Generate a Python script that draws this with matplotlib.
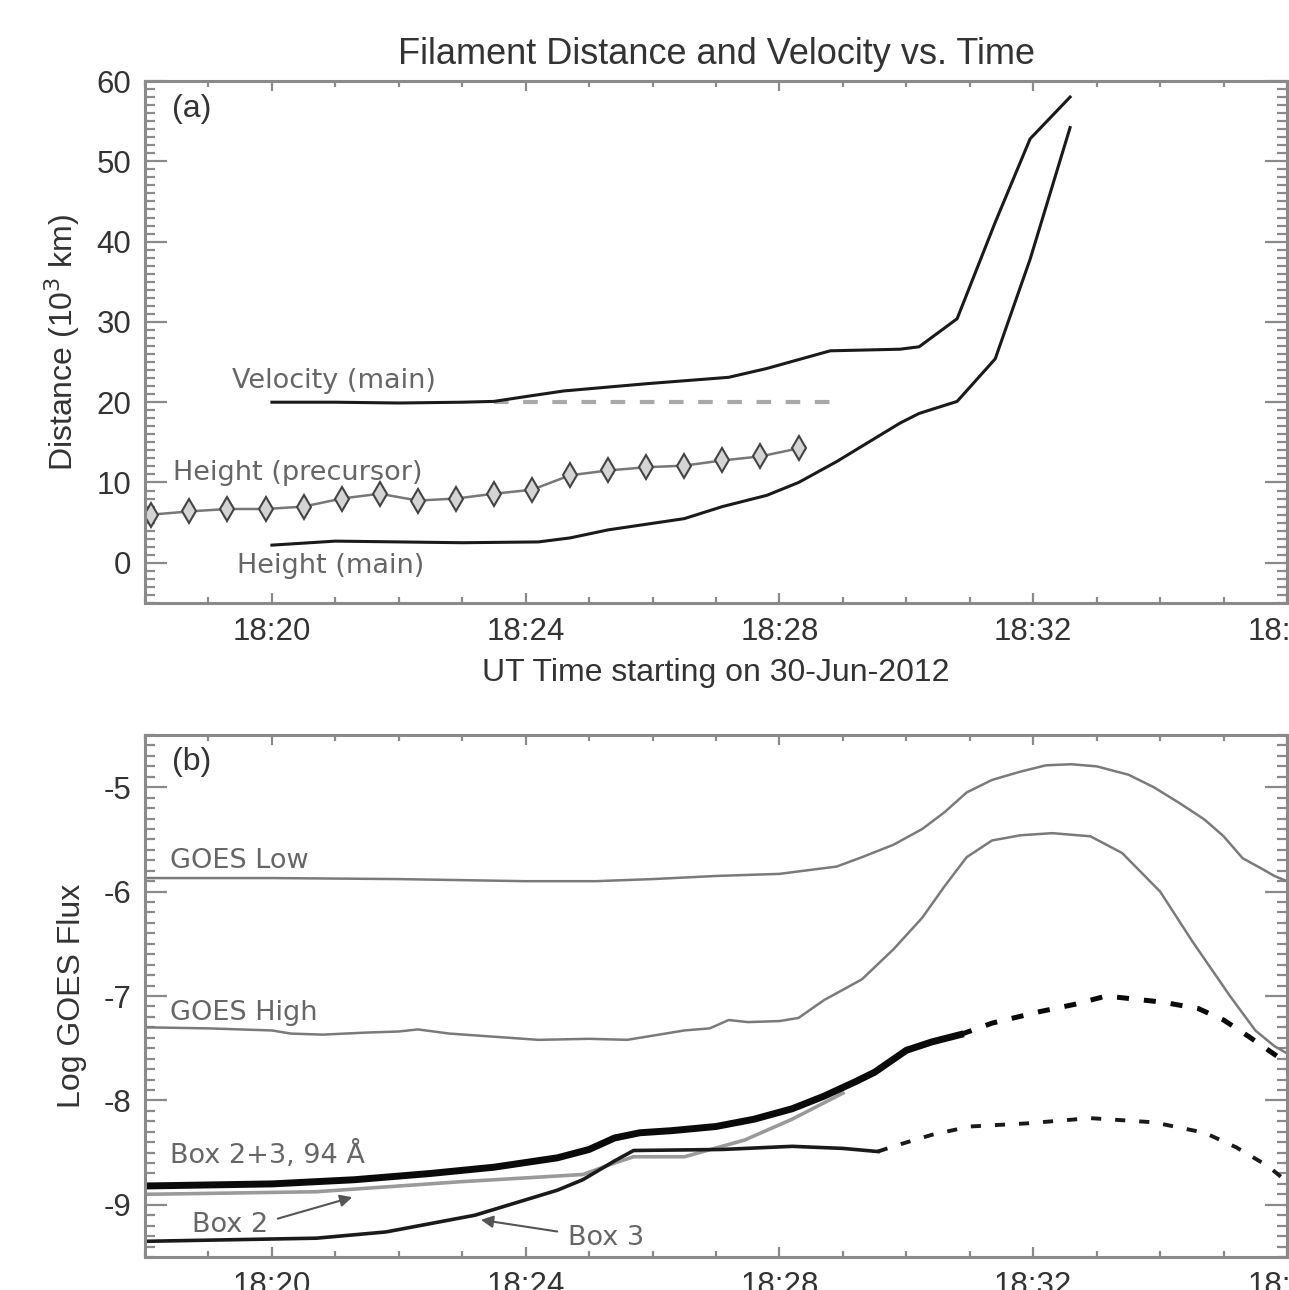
import numpy as np
import matplotlib
matplotlib.use("Agg")
import matplotlib.pyplot as plt
from matplotlib.ticker import MultipleLocator, FuncFormatter

plt.rcParams["axes.unicode_minus"] = False

# ── panel (a): minutes after 18:00 ───────────────────────────────────────────
vel_t = [20.0, 21.0, 22.0, 23.0, 23.5, 24.0, 24.6, 25.9, 27.2, 27.8, 28.8, 29.9,
         30.2, 30.8, 31.4, 31.95, 32.58]
vel_v = [20.0, 20.0, 19.9, 20.0, 20.1, 20.7, 21.4, 22.3, 23.1, 24.2, 26.4, 26.6,
         26.9, 30.4, 42.4, 52.8, 58.0]

ht_t = [20.0, 21.0, 22.0, 23.0, 24.2, 24.7, 25.3, 26.5, 27.1, 27.8, 28.3, 28.9,
        29.9, 30.2, 30.8, 31.4, 31.95, 32.58]
ht_v = [2.2, 2.7, 2.6, 2.5, 2.6, 3.1, 4.1, 5.5, 7.0, 8.4, 10.0, 12.6,
        17.4, 18.6, 20.1, 25.4, 37.8, 54.2]

prec_t = [18.1, 18.7, 19.3, 19.9, 20.5, 21.1, 21.7, 22.3, 22.9, 23.5, 24.1, 24.7,
          25.3, 25.9, 26.5, 27.1, 27.7, 28.3]
prec_v = [6.0, 6.4, 6.7, 6.7, 7.0, 8.0, 8.6, 7.75, 8.0, 8.6, 9.1, 10.9,
          11.5, 11.9, 12.1, 12.75, 13.25, 14.25]

vref_t = [23.5, 28.8]
vref_v = [20.0, 20.0]

# ── panel (b): log GOES flux ─────────────────────────────────────────────────
low_t = [18.0, 20.0, 22.0, 24.0, 25.1, 26.0, 27.0, 28.0, 28.9, 29.3, 29.8, 30.25,
         30.6, 30.95, 31.35, 31.8, 32.2, 32.6, 33.0, 33.5, 33.9, 34.3, 34.7, 35.0,
         35.3, 35.6, 35.8, 36.0]
low_v = [-5.87, -5.87, -5.88, -5.90, -5.90, -5.88, -5.85, -5.83, -5.76, -5.67, -5.55, -5.40,
         -5.24, -5.05, -4.93, -4.85, -4.79, -4.78, -4.80, -4.88, -5.00, -5.15, -5.31, -5.47,
         -5.68, -5.78, -5.85, -5.90]

high_t = [18.0, 19.0, 20.0, 20.3, 20.8, 21.5, 22.0, 22.3, 22.8, 23.5, 24.2, 25.0,
          25.6, 26.0, 26.5, 26.9, 27.2, 27.5, 28.0, 28.3, 28.7, 29.3, 29.8, 30.25,
          30.6, 30.95, 31.35, 31.8, 32.3, 32.9, 33.4, 34.0, 34.5, 35.1, 35.5, 35.8, 36.0]
high_v = [-7.30, -7.31, -7.33, -7.36, -7.37, -7.35, -7.34, -7.32, -7.36, -7.39, -7.42, -7.41,
          -7.42, -7.38, -7.33, -7.31, -7.23, -7.25, -7.24, -7.21, -7.04, -6.84, -6.55, -6.25,
          -5.95, -5.67, -5.51, -5.46, -5.44, -5.47, -5.63, -6.00, -6.47, -7.00, -7.33, -7.48, -7.55]

b23_t = [18.0, 20.0, 21.3, 22.5, 23.5, 24.5, 25.0, 25.4, 25.8, 26.3, 27.0, 27.6,
         28.2, 28.7, 29.2, 29.5, 30.0, 30.4, 30.85]
b23_v = [-8.82, -8.80, -8.76, -8.70, -8.64, -8.55, -8.47, -8.36, -8.31, -8.29, -8.25, -8.18,
         -8.08, -7.96, -7.82, -7.73, -7.52, -7.44, -7.37]
b23d_t = [30.85, 31.35, 32.1, 32.65, 33.15, 34.05, 34.6, 35.0, 35.4, 35.85, 36.0]
b23d_v = [-7.37, -7.26, -7.15, -7.08, -7.00, -7.06, -7.12, -7.23, -7.39, -7.58, -7.66]

b2_t = [18.0, 20.7, 22.95, 24.9, 25.4, 25.7, 26.5, 27.45, 28.2, 29.0]
b2_v = [-8.90, -8.875, -8.78, -8.71, -8.60, -8.54, -8.54, -8.38, -8.18, -7.93]

b3_t = [18.0, 20.7, 21.8, 23.2, 24.5, 24.9, 25.4, 25.7, 27.1, 28.2, 29.0, 29.55]
b3_v = [-9.35, -9.32, -9.26, -9.10, -8.86, -8.76, -8.58, -8.48, -8.47, -8.44, -8.46, -8.49]
b3d_t = [29.55, 29.85, 30.4, 31.0, 31.9, 32.9, 33.9, 34.7, 35.2, 35.7, 36.0]
b3d_v = [-8.49, -8.43, -8.33, -8.25, -8.22, -8.17, -8.21, -8.31, -8.45, -8.63, -8.78]

TICK_FONT = "Liberation Sans"
LABEL_FONT = "DejaVu Sans"
SPINE = "#8a8a8a"
TXT = "#333333"
IDL = "#666666"


def time_fmt(x, pos):
    return f"18:{int(round(x)):02d}"


def style_axes(ax, ymajor, yminor):
    ax.set_xlim(18, 36)
    ax.xaxis.set_major_locator(MultipleLocator(4))
    ax.xaxis.set_minor_locator(MultipleLocator(1))
    ax.xaxis.set_major_formatter(FuncFormatter(time_fmt))
    ax.yaxis.set_major_locator(MultipleLocator(ymajor))
    ax.yaxis.set_minor_locator(MultipleLocator(yminor))
    for s in ax.spines.values():
        s.set_color(SPINE)
        s.set_linewidth(2.2)
    ax.tick_params(which="both", direction="in", top=True, right=True, color=SPINE,
                   labelsize=22.5, labelcolor=TXT, pad=10)
    ax.tick_params(axis="x", which="major", length=7, width=1.6)
    ax.tick_params(axis="x", which="minor", length=4, width=1.6)
    ax.tick_params(axis="y", which="major", length=16, width=1.6)
    ax.tick_params(axis="y", which="minor", length=7, width=1.6)
    for lab in ax.get_xticklabels() + ax.get_yticklabels():
        lab.set_family(TICK_FONT)


fig = plt.figure(figsize=(12.89, 12.90), dpi=100)
ax1 = fig.add_axes([0.1125, 0.5326, 0.886, 0.4046])
ax2 = fig.add_axes([0.1125, 0.0256, 0.886, 0.4046])

# ── (a) ──────────────────────────────────────────────────────────────────────
ax1.plot(vref_t, vref_v, color="#a8a8a8", lw=3, dashes=(3.5, 3.5))
ax1.plot(vel_t, vel_v, color="#1a1a1a", lw=2.2)
ax1.plot(ht_t, ht_v, color="#1a1a1a", lw=2.2)
ax1.plot(prec_t, prec_v, color="#777777", lw=1.8, marker="d", markersize=12,
         markerfacecolor="#d4d4d4", markeredgecolor="#444444", markeredgewidth=1.5)
ax1.set_ylim(-5, 60)
style_axes(ax1, 10, 1)
ax1.set_title("Filament Distance and Velocity vs. Time", fontsize=26,
              family=TICK_FONT, color=TXT, pad=12)
ax1.set_xlabel("UT Time starting on 30-Jun-2012", fontsize=23, family=TICK_FONT,
               color=TXT, labelpad=8)
ax1.set_ylabel("Distance (10$^3$ km)", fontsize=23, family=TICK_FONT, color=TXT)
ax1.yaxis.set_label_coords(-0.055, 0.5)
ax1.text(0.024, 0.975, "(a)", transform=ax1.transAxes, ha="left", va="top",
         fontsize=23, family=TICK_FONT, color=TXT)
ax1.text(19.37, 21.75, "Velocity (main)", fontsize=19.5, family=LABEL_FONT, color=IDL)
ax1.text(18.44, 10.25, "Height (precursor)", fontsize=19.5, family=LABEL_FONT, color=IDL)
ax1.text(19.45, -1.25, "Height (main)", fontsize=19.5, family=LABEL_FONT, color=IDL)

# ── (b) ──────────────────────────────────────────────────────────────────────
ax2.plot(low_t, low_v, color="#7a7a7a", lw=1.8)
ax2.plot(high_t, high_v, color="#7a7a7a", lw=1.8)
ax2.plot(b2_t, b2_v, color="#9a9a9a", lw=2.6)
ax2.plot(b3_t, b3_v, color="#1a1a1a", lw=2.6)
ax2.plot(b3d_t, b3d_v, color="#1a1a1a", lw=2.8, dashes=(2.6, 3.6))
ax2.plot(b23_t, b23_v, color="#0a0a0a", lw=5)
ax2.plot(b23d_t, b23d_v, color="#0a0a0a", lw=3.6, dashes=(2.4, 3.0))
ax2.set_ylim(-9.5, -4.5)
style_axes(ax2, 1, 0.1)
ax2.set_ylabel("Log GOES Flux", fontsize=23, family=TICK_FONT, color=TXT)
ax2.yaxis.set_label_coords(-0.051, 0.5)
ax2.text(0.024, 0.977, "(b)", transform=ax2.transAxes, ha="left", va="top",
         fontsize=23, family=TICK_FONT, color=TXT)
ax2.text(18.39, -5.77, "GOES Low", fontsize=19.5, family=LABEL_FONT, color=IDL)
ax2.text(18.39, -7.23, "GOES High", fontsize=19.5, family=LABEL_FONT, color=IDL)
ax2.text(18.39, -8.60, "Box 2+3, 94 Å", fontsize=19.5, family=LABEL_FONT, color=IDL)
ax2.text(18.74, -9.26, "Box 2", fontsize=19.5, family=LABEL_FONT, color=IDL)
ax2.text(24.67, -9.39, "Box 3", fontsize=19.5, family=LABEL_FONT, color=IDL)
ax2.annotate("", xy=(21.31, -8.92), xytext=(20.05, -9.14),
             arrowprops=dict(arrowstyle="-|>", color="#555555", lw=1.5,
                             mutation_scale=18))
ax2.annotate("", xy=(23.25, -9.14), xytext=(24.54, -9.26),
             arrowprops=dict(arrowstyle="-|>", color="#555555", lw=1.5,
                             mutation_scale=18))

fig.savefig("out.png", dpi=100)
